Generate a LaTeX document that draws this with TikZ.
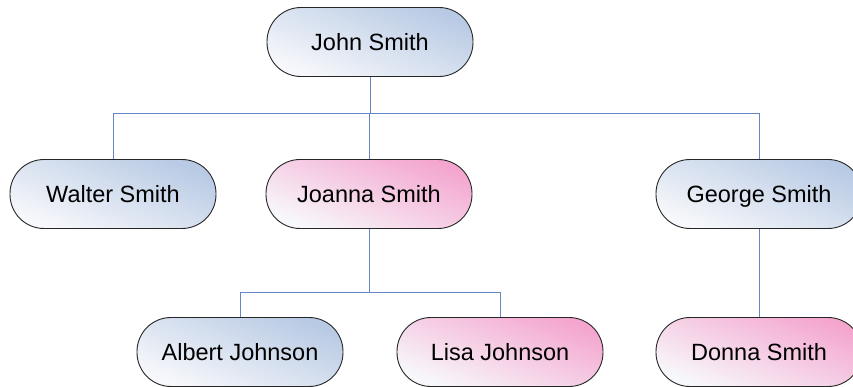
\documentclass[tikz,border=0pt]{standalone}
\usepackage{fontspec}
\setmainfont{Liberation Sans}
\usetikzlibrary{positioning}

\definecolor{boyblue}{HTML}{B8CAE4}
\definecolor{girlpink}{HTML}{F4A6CF}
\definecolor{paleend}{HTML}{F7F8FB}
\definecolor{linkblue}{HTML}{6486C4}

\begin{document}
\begin{tikzpicture}[
  x=1pt,y=-1pt,
  person/.style={draw=black!85, line width=0.9pt, rounded corners=34pt, minimum width=206pt, minimum height=69pt, inner sep=0pt, text height=17pt, text depth=0pt, font=\fontsize{23.5}{27}\selectfont, bottom color=paleend, top color=#1, shading angle=-22},
  person/.default=boyblue,
  link/.style={draw=linkblue, line width=0.9pt}
]
\useasboundingbox (0,0) rectangle (853,387);
\node[person] (john) at (370,42) {John Smith};
\node[person] (walter) at (113,194) {Walter Smith};
\node[person=girlpink] (joanna) at (369,194) {Joanna Smith};
\node[person] (george) at (759,194) {George Smith};
\node[person] (albert) at (240,352) {Albert Johnson};
\node[person=girlpink] (lisa) at (500,352) {Lisa Johnson};
\node[person=girlpink] (donna) at (759,352) {Donna Smith};
\coordinate (bus1) at (370,113);
\coordinate (bus2) at (369,292);
\foreach \x in {walter,joanna,george}{\draw[link] (john.south) -- (bus1) -| (\x.north);}
\foreach \x in {albert,lisa}{\draw[link] (joanna.south) -- (bus2) -| (\x.north);}
\draw[link] (george) -- (donna);
\end{tikzpicture}
\end{document}
